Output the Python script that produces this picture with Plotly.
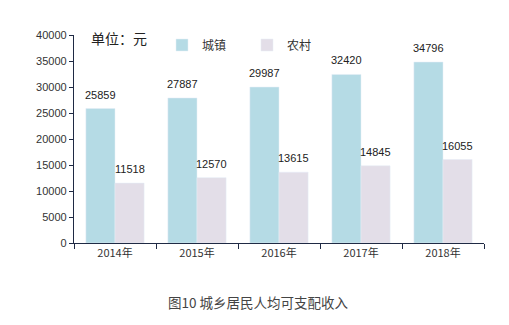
import plotly.graph_objects as go

categories = ["2014年", "2015年", "2016年", "2017年", "2018年"]
urban = [25859, 27887, 29987, 32420, 34796]
rural = [11518, 12570, 13615, 14845, 16055]
series_names = ["城镇", "农村"]
y_ticks = [0, 5000, 10000, 15000, 20000, 25000, 30000, 35000, 40000]
y_tick_labels = [str(v) for v in y_ticks]

c_urban = "#b5dbe5"
c_rural = "#e3dee8"
font_num = "Liberation Sans, Arial, sans-serif"
font_cjk = "Noto Sans CJK SC, sans-serif"

L, R, T, B = 74, 25, 35, 82
PW = 509 - L - R
PH = 325 - T - B

fig = go.Figure()
fig.add_bar(x=categories, y=urban, name=series_names[0], marker_color=c_urban)
fig.add_bar(x=categories, y=rural, name=series_names[1], marker_color=c_rural)

for cat, u, r in zip(categories, urban, rural):
    fig.add_annotation(x=cat, y=u, text=str(u), showarrow=False, xshift=-14.5, yshift=14,
                       yanchor="middle", font=dict(size=11, color="#222", family=font_num))
    fig.add_annotation(x=cat, y=r, text=str(r), showarrow=False, xshift=14.5, yshift=14,
                       yanchor="middle", font=dict(size=11, color="#222", family=font_num))

fig.add_annotation(xref="paper", yref="paper", x=(89 - L) / PW, y=1 - (38 - T) / PH, text="单位：元",
                   showarrow=False, xanchor="left", yanchor="middle",
                   font=dict(size=14, color="#222", family=font_cjk))
fig.add_annotation(xref="paper", yref="paper", x=(258 - L) / PW, y=-(302 - 243) / PH,
                   text="图10 城乡居民人均可支配收入", showarrow=False, xanchor="center", yanchor="middle",
                   font=dict(size=13.5, color="#444", family=font_cjk))

fig.update_layout(
    width=509, height=325,
    margin=dict(l=L, r=R, t=T, b=B),
    paper_bgcolor="white", plot_bgcolor="white",
    barmode="group", bargap=0.29, bargroupgap=0,
    showlegend=True,
    legend=dict(orientation="h", x=(162 - L) / PW, y=1 - (45 - T) / PH, xanchor="left", yanchor="middle",
                font=dict(size=12, color="#333", family=font_cjk),
                itemwidth=30, entrywidth=40, bgcolor="rgba(0,0,0,0)", tracegroupgap=0),
    font=dict(family=font_num),
)
fig.update_xaxes(showline=True, linecolor="#1f2a44", linewidth=1.2, ticks="outside",
                 tickson="boundaries", ticklen=5, tickcolor="#1f2a44",
                 tickfont=dict(size=11, color="#333", family=font_cjk), showgrid=False)
fig.update_yaxes(range=[0, 40000], tickvals=y_ticks, ticktext=y_tick_labels, showline=True,
                 linecolor="#1f2a44", linewidth=1.2, ticks="outside", ticklen=4, tickcolor="#1f2a44",
                 tickfont=dict(size=11, color="#333", family=font_num), showgrid=False, zeroline=False)

fig.write_html("out.html")
